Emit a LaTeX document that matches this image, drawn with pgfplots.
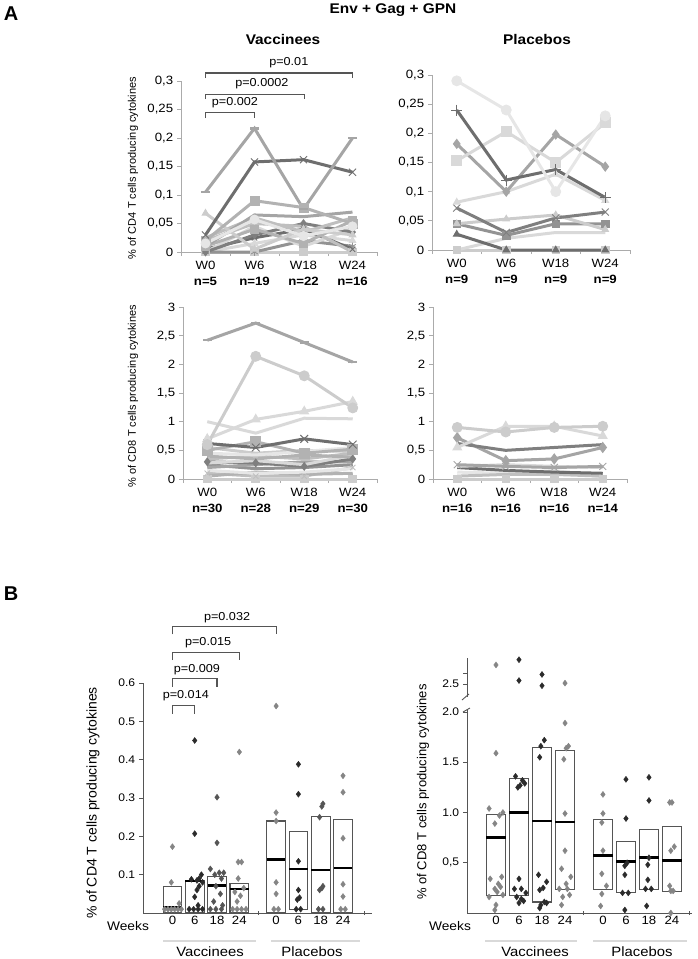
\documentclass[border=0pt]{standalone}
\usepackage{fontspec}
\setmainfont{Liberation Sans}
\usepackage{pgfplots}
\usepackage{pgfplotstable}
\pgfplotsset{compat=1.18}

\definecolor{k1}{HTML}{A5A5A5}
\definecolor{k2}{HTML}{7F7F7F}
\definecolor{k3}{HTML}{BFBFBF}
\definecolor{k4}{HTML}{D9D9D9}
\definecolor{k5}{HTML}{939393}
\definecolor{k6}{HTML}{CCCCCC}
\definecolor{k7}{HTML}{E6E6E6}
\definecolor{k8}{HTML}{6E6E6E}
\definecolor{k9}{HTML}{B2B2B2}
\definecolor{dg}{HTML}{858585}
\definecolor{dk}{HTML}{2B2B2B}
\definecolor{dm}{HTML}{555555}
\definecolor{ax}{HTML}{ABABAB}

\pgfplotstableread{
x a b c d e f g h i j k l m n o
0.5 0.105 0.030 0.020 0.068 0.010 0.015 0.000 0.020 0.000 0.010 0.000 0.000 0.005 0.000 0.025
1.5 0.217 0.158 0.090 0.005 0.065 0.057 0.030 0.050 0.000 0.040 0.015 0.000 0.025 0.045 0.060
2.5 0.075 0.162 0.078 0.040 0.062 0.028 0.050 0.045 0.020 0.015 0.030 0.000 0.040 0.010 0.035
3.5 0.200 0.140 0.050 0.030 0.070 0.045 0.035 0.000 0.010 0.055 0.020 0.000 0.005 0.040 0.060
}\tVC

\pgfplotstableread{
x a b c d e f g h i j k
0.5 0.290 0.240 0.153 0.182 0.082 0.072 0.045 0.045 0.027 0.000 0.000
1.5 0.240 0.120 0.203 0.100 0.100 0.030 0.053 0.025 0.000 0.020 0.000
2.5 0.100 0.138 0.150 0.198 0.130 0.055 0.060 0.045 0.000 0.030 0.000
3.5 0.230 0.090 0.218 0.143 0.085 0.065 0.035 0.045 0.000 0.030 0.000
}\tPC

\pgfplotstableread{
x a b c d e f g h i j k l m n o p q r
0.5 2.42 0.60 0.70 1.00 0.62 0.50 0.45 0.30 0.35 0.20 0.10 0.00 0.40 0.15 0.25 0.55 0.05 0.28
1.5 2.72 2.14 1.04 0.80 0.55 0.65 0.42 0.28 0.40 0.25 0.05 0.00 0.35 0.10 0.18 0.45 0.12 0.32
2.5 2.38 1.80 1.18 1.06 0.70 0.45 0.48 0.22 0.35 0.30 0.05 0.00 0.42 0.12 0.20 0.50 0.08 0.25
3.5 2.04 1.24 1.35 1.05 0.60 0.52 0.55 0.35 0.45 0.30 0.20 0.00 0.38 0.18 0.25 0.48 0.10 0.42
}\tVE

\pgfplotstableread{
x a b c d e f g h i j
0.5 0.90 0.55 0.62 0.72 0.25 0.20 0.05 0.00 0.22 0.12
1.5 0.82 0.92 0.50 0.32 0.22 0.15 0.08 0.00 0.25 0.10
2.5 0.90 0.92 0.55 0.35 0.20 0.12 0.08 0.00 0.22 0.15
3.5 0.92 0.75 0.60 0.55 0.22 0.10 0.05 0.00 0.20 0.03
}\tPE

\pgfplotsset{
  Aaxis/.style={scale only axis, anchor=south west, xmin=0, xmax=4, clip=false,
    axis x line*=bottom, axis y line*=left,
    axis line style={draw=ax, line width=0.9pt},
    tick style={draw=ax, line width=0.9pt}, major tick length=4pt, tick align=outside,
    xtick={0,1,2,3,4}, xticklabels={},
    extra x ticks={0.5,1.5,2.5,3.5}, extra x tick style={major tick length=0pt},
    yticklabel style={font=\fontsize{12}{12}\selectfont, xscale=1.1},
    xticklabel style={font=\fontsize{12}{16}\selectfont, align=center, yshift=-6pt, xscale=1.1},
    /pgf/number format/assume math mode=true},
  L/.style={line width=3pt, mark size=3.8pt, mark options={solid, line width=0.9pt}},
  Ld/.style={line width=3pt, mark size=4.5pt, mark options={solid, line width=2.4pt}},
  Baxis/.style={scale only axis, anchor=south west, clip=false,
    axis x line*=bottom, axis y line*=left,
    axis line style={draw=dm, line width=0.9pt},
    tick style={draw=dm, line width=0.9pt}, major tick length=4pt,
    ytick align=outside, xtick align=center,
    extra x ticks={1,2,3,4,5.65,6.65,7.65,8.65},
    extra x tick labels={0,6,18,24,0,6,18,24},
    extra x tick style={major tick length=0pt},
    yticklabel style={font=\fontsize{11}{12}\selectfont, xscale=1.1},
    xticklabel style={font=\fontsize{12}{12}\selectfont, xscale=1.1},
    /pgf/number format/assume math mode=true},
  bx/.style={draw=dm, line width=1.1pt},
  md/.style={black, line width=2.6pt},
  pts/.style={only marks, mark=diamond*, mark size=3pt},
}
\tikzset{br/.style={draw=dm, line width=1.1pt}, pf/.style={font=\fontsize{11.5}{12}\selectfont, xscale=1.1}}

\begin{document}
\begin{tikzpicture}
\useasboundingbox (0,0) rectangle (697pt,-959pt);

% titles
\node[font=\fontsize{20}{20}\selectfont\bfseries] at (11pt,-14pt) {A};
\node[font=\fontsize{14}{14}\selectfont\bfseries, xscale=1.1] at (393pt,-10pt) {Env + Gag + GPN};
\node[font=\fontsize{14}{14}\selectfont\bfseries, xscale=1.1] at (283pt,-39pt) {Vaccinees};
\node[font=\fontsize{14}{14}\selectfont\bfseries, xscale=1.1] at (537pt,-39pt) {Placebos};
\node[rotate=90, font=\fontsize{11}{11}\selectfont] at (133pt,-168pt) {\% of CD4 T cells producing cytokines};
\node[rotate=90, font=\fontsize{11}{11}\selectfont] at (133pt,-396pt) {\% of CD8 T cells producing cytokines};

% ---------- A: Vaccinees CD4
\begin{axis}[Aaxis, at={(181pt,-252pt)}, width=196pt, height=171pt, ymin=0, ymax=0.3,
  ytick={0,0.05,0.1,0.15,0.2,0.25,0.3}, yticklabels={0,{0,05},{0,1},{0,15},{0,2},{0,25},{0,3}},
  extra x tick labels={{W0\\\textbf{n=5}},{W6\\\textbf{n=19}},{W18\\\textbf{n=22}},{W24\\\textbf{n=16}}}]
\addplot[L,k6,mark=square*] table[y=l]{\tVC};
\addplot[L,k4,mark=triangle*] table[y=k]{\tVC};
\addplot[L,k5,mark=asterisk] table[y=i]{\tVC};
\addplot[L,k8,mark=x] table[y=m]{\tVC};
\addplot[L,k4,mark=none] table[y=n]{\tVC};
\addplot[L,k2,mark=diamond*] table[y=g]{\tVC};
\addplot[L,k3,mark=none] table[y=h]{\tVC};
\addplot[L,k9,mark=square*] table[y=j]{\tVC};
\addplot[L,k3,mark=none] table[y=o]{\tVC};
\addplot[L,k1,mark=none] table[y=e]{\tVC};
\addplot[L,k6,mark=triangle*] table[y=d]{\tVC};
\addplot[L,k9,mark=square*,mark size=4.5pt] table[y=c]{\tVC};
\addplot[L,k7,mark=*,mark size=4.5pt] table[y=f]{\tVC};
\addplot[L,k8,mark=x,mark size=5pt] table[y=b]{\tVC};
\addplot[Ld,k1,mark=-] table[y=a]{\tVC};
\draw[br] (axis cs:0.5,0.235) -- (axis cs:0.5,0.244) -- (axis cs:1.5,0.244) -- (axis cs:1.5,0.235);
\node[pf] at (axis cs:1.1,0.262) {p=0.002};
\draw[br] (axis cs:0.5,0.268) -- (axis cs:0.5,0.277) -- (axis cs:2.52,0.277) -- (axis cs:2.52,0.268);
\node[pf] at (axis cs:1.65,0.295) {p=0.0002};
\draw[br] (axis cs:0.5,0.305) -- (axis cs:0.5,0.314) -- (axis cs:3.5,0.314) -- (axis cs:3.5,0.305);
\node[pf] at (axis cs:2.2,0.333) {p=0.01};
\end{axis}

% ---------- A: Placebos CD4
\begin{axis}[Aaxis, at={(432pt,-250pt)}, width=198pt, height=175pt, ymin=0, ymax=0.3,
  ytick={0,0.05,0.1,0.15,0.2,0.25,0.3}, yticklabels={0,{0,05},{0,1},{0,15},{0,2},{0,25},{0,3}},
  extra x tick labels={{W0\\\textbf{n=9}},{W6\\\textbf{n=9}},{W18\\\textbf{n=9}},{W24\\\textbf{n=9}}}]
\addplot[L,k6,mark=square*] table[y=k]{\tPC};
\addplot[L,k4,mark=none] table[y=j]{\tPC};
\addplot[L,k8,mark=triangle*] table[y=i]{\tPC};
\addplot[L,k5,mark=square*] table[y=h]{\tPC};
\addplot[L,k6,mark=triangle*] table[y=g]{\tPC};
\addplot[L,k2,mark=x,mark size=5pt] table[y=f]{\tPC};
\addplot[L,k4,mark=triangle*] table[y=e]{\tPC};
\addplot[L,k1,mark=diamond*,mark size=4.5pt] table[y=d]{\tPC};
\addplot[L,k4,mark=square*,mark size=5pt] table[y=c]{\tPC};
\addplot[L,k8,mark=+,mark size=5.5pt] table[y=b]{\tPC};
\addplot[L,k7,mark=*,mark size=5pt] table[y=a]{\tPC};
\end{axis}

% ---------- A: Vaccinees CD8
\begin{axis}[Aaxis, at={(183pt,-479pt)}, width=194pt, height=172pt, ymin=0, ymax=3,
  ytick={0,0.5,1,1.5,2,2.5,3}, yticklabels={0,{0,5},1,{1,5},2,{2,5},3},
  extra x tick labels={{W0\\\textbf{n=30}},{W6\\\textbf{n=28}},{W18\\\textbf{n=29}},{W24\\\textbf{n=30}}}]
\addplot[L,k6,mark=square*] table[y=l]{\tVE};
\addplot[L,k3,mark=x] table[y=k]{\tVE};
\addplot[L,k9,mark=none] table[y=q]{\tVE};
\addplot[L,k7,mark=none] table[y=n]{\tVE};
\addplot[L,k5,mark=none] table[y=o]{\tVE};
\addplot[L,k1,mark=none] table[y=j]{\tVE};
\addplot[L,k2,mark=diamond*] table[y=h]{\tVE};
\addplot[L,k4,mark=none] table[y=r]{\tVE};
\addplot[L,k3,mark=none] table[y=i]{\tVE};
\addplot[L,k9,mark=none] table[y=m]{\tVE};
\addplot[L,k6,mark=none] table[y=p]{\tVE};
\addplot[L,k7,mark=none] table[y=g]{\tVE};
\addplot[L,k9,mark=square*,mark size=5pt] table[y=f]{\tVE};
\addplot[L,k8,mark=x,mark size=5.5pt] table[y=e]{\tVE};
\addplot[L,k4,mark=none] table[y=d]{\tVE};
\addplot[L,k4,mark=triangle*,mark size=5pt] table[y=c]{\tVE};
\addplot[L,k6,mark=*,mark size=5pt] table[y=b]{\tVE};
\addplot[Ld,k1,mark=-] table[y=a]{\tVE};
\end{axis}

% ---------- A: Placebos CD8
\begin{axis}[Aaxis, at={(433pt,-479pt)}, width=194pt, height=172pt, ymin=0, ymax=3,
  ytick={0,0.5,1,1.5,2,2.5,3}, yticklabels={0,{0,5},1,{1,5},2,{2,5},3},
  extra x tick labels={{W0\\\textbf{n=16}},{W6\\\textbf{n=16}},{W18\\\textbf{n=16}},{W24\\\textbf{n=14}}}]
\addplot[L,k6,mark=square*] table[y=h]{\tPE};
\addplot[L,k7,mark=none] table[y=j]{\tPE};
\addplot[L,k3,mark=none] table[y=g]{\tPE};
\addplot[L,k8,mark=none] table[y=f]{\tPE};
\addplot[L,k4,mark=none] table[y=i]{\tPE};
\addplot[L,k1,mark=x,mark size=5pt] table[y=e]{\tPE};
\addplot[L,k1,mark=diamond*,mark size=5pt] table[y=d]{\tPE};
\addplot[L,k2,mark=none] table[y=c]{\tPE};
\addplot[L,k4,mark=triangle*,mark size=5pt] table[y=b]{\tPE};
\addplot[L,k6,mark=*,mark size=5pt] table[y=a]{\tPE};
\end{axis}

% ---------- B
\node[font=\fontsize{20}{20}\selectfont\bfseries] at (11pt,-594pt) {B};
\node[rotate=90, font=\fontsize{14}{14}\selectfont] at (93pt,-803pt) {\% of CD4 T cells producing cytokines};
\node[rotate=90, font=\fontsize{13}{13}\selectfont] at (423pt,-792pt) {\% of CD8 T cells producing cytokines};
\node[font=\fontsize{12.5}{13}\selectfont, xscale=1.1] at (128pt,-926pt) {Weeks};
\node[font=\fontsize{12.5}{13}\selectfont, xscale=1.1] at (450pt,-926pt) {Weeks};
\draw[draw=k4, line width=1.3pt] (163pt,-941pt) -- (256pt,-941pt);
\draw[draw=k4, line width=1.3pt] (271pt,-941pt) -- (360pt,-941pt);
\draw[draw=k4, line width=1.3pt] (485pt,-941pt) -- (577pt,-941pt);
\draw[draw=k4, line width=1.3pt] (593pt,-941pt) -- (687pt,-941pt);
\node[font=\fontsize{13.5}{14}\selectfont, xscale=1.1] at (210pt,-952pt) {Vaccinees};
\node[font=\fontsize{13.5}{14}\selectfont, xscale=1.1] at (312pt,-952pt) {Placebos};
\node[font=\fontsize{13.5}{14}\selectfont, xscale=1.1] at (535pt,-952pt) {Vaccinees};
\node[font=\fontsize{13.5}{14}\selectfont, xscale=1.1] at (642pt,-952pt) {Placebos};

% B left: CD4
\begin{axis}[Baxis, at={(143pt,-913pt)}, width=229pt, height=230pt,
  xmin=-0.32, xmax=9.95, ymin=0, ymax=0.6,
  xtick={4.85,9.6}, xticklabels={}, major tick length=4pt,
  ytick={0.1,0.2,0.3,0.4,0.5,0.6}, yticklabels={0.1,0.2,0.3,0.4,0.5,0.6}]
\addplot[bx] coordinates {(0.58,0) (1.42,0) (1.42,0.068) (0.58,0.068)} -- cycle;
\addplot[bx] coordinates {(1.58,0) (2.42,0) (2.42,0.085) (1.58,0.085)} -- cycle;
\addplot[bx] coordinates {(2.58,0) (3.42,0) (3.42,0.095) (2.58,0.095)} -- cycle;
\addplot[bx] coordinates {(3.58,0) (4.42,0) (4.42,0.078) (3.58,0.078)} -- cycle;
\addplot[bx] coordinates {(5.23,0) (6.07,0) (6.07,0.240) (5.23,0.240)} -- cycle;
\addplot[bx] coordinates {(6.23,0.01) (7.07,0.01) (7.07,0.213) (6.23,0.213)} -- cycle;
\addplot[bx] coordinates {(7.23,0) (8.07,0) (8.07,0.252) (7.23,0.252)} -- cycle;
\addplot[bx] coordinates {(8.23,0) (9.07,0) (9.07,0.243) (8.23,0.243)} -- cycle;
\addplot[md] coordinates {(0.58,0.015) (1.42,0.015)};
\addplot[md] coordinates {(1.58,0.083) (2.42,0.083)};
\addplot[md] coordinates {(2.58,0.072) (3.42,0.072)};
\addplot[md] coordinates {(3.58,0.063) (4.42,0.063)};
\addplot[md] coordinates {(5.23,0.140) (6.07,0.140)};
\addplot[md] coordinates {(6.23,0.115) (7.07,0.115)};
\addplot[md] coordinates {(7.23,0.112) (8.07,0.112)};
\addplot[md] coordinates {(8.23,0.117) (9.07,0.117)};
\addplot[pts, color=dg] coordinates {(1,0.173) (0.95,0.08) (1.3,0.025) (0.65,0.01) (0.8,0.01) (0.95,0.01) (1.1,0.01) (1.25,0.01) (1.4,0.01)
  (4,0.42) (3.95,0.133) (4.1,0.133) (3.95,0.09) (4.2,0.065) (3.8,0.055) (4.05,0.045) (3.9,0.03) (3.7,0.01) (3.9,0.01) (4.1,0.01) (4.3,0.01)
  (5.65,0.54) (5.65,0.262) (5.65,0.24) (5.65,0.08) (5.65,0.05) (5.55,0.01) (5.75,0.01)
  (8.65,0.358) (8.65,0.315) (8.65,0.195) (8.65,0.075) (8.65,0.043) (8.55,0.01) (8.75,0.01)};
\addplot[pts, color=dk] coordinates {(2,0.45) (2,0.207) (2.3,0.1) (2.2,0.09) (1.85,0.088) (2.1,0.085) (2.35,0.08) (2.2,0.07) (2.1,0.06) (2.0,0.042) (2.15,0.02) (1.75,0.01) (1.95,0.01) (2.15,0.01) (2.35,0.01)
  (6.65,0.388) (6.65,0.31) (6.65,0.135) (6.65,0.06) (6.7,0.04) (6.6,0.035) (6.55,0.01) (6.75,0.01)};
\addplot[pts, color=dm] coordinates {(3,0.302) (3,0.183) (2.7,0.115) (3.1,0.105) (3.3,0.105) (2.9,0.1) (3.2,0.09) (2.95,0.07) (3.15,0.05) (2.85,0.03) (3.25,0.02) (2.7,0.01) (2.95,0.01) (3.2,0.01)
  (7.75,0.285) (7.7,0.278) (7.6,0.25) (7.75,0.07) (7.7,0.065) (7.6,0.06) (7.55,0.01) (7.75,0.01)};
\draw[br] (axis cs:1,0.52) -- (axis cs:1,0.541) -- (axis cs:2,0.541) -- (axis cs:2,0.52);
\node[pf] at (axis cs:1.6,0.567) {p=0.014};
\draw[br] (axis cs:1,0.59) -- (axis cs:1,0.611) -- (axis cs:3,0.611) -- (axis cs:3,0.59);
\node[pf] at (axis cs:2.1,0.634) {p=0.009};
\draw[br] (axis cs:1,0.66) -- (axis cs:1,0.68) -- (axis cs:4,0.68) -- (axis cs:4,0.66);
\node[pf] at (axis cs:2.6,0.704) {p=0.015};
\draw[br] (axis cs:1,0.727) -- (axis cs:1,0.747) -- (axis cs:5.65,0.747) -- (axis cs:5.65,0.727);
\node[pf] at (axis cs:3.45,0.77) {p=0.032};
\end{axis}

% B right: CD8 lower part
\begin{axis}[Baxis, at={(467pt,-913pt)}, width=225pt, height=203pt,
  xmin=-0.26, xmax=9.52, ymin=0, ymax=2.02,
  xtick={4.78,9.39}, xticklabels={}, major tick length=4pt,
  ytick={0.5,1,1.5,2}, yticklabels={{0,5},1.0,1.5,2.0}]
\addplot[bx] coordinates {(0.58,0.17) (1.42,0.17) (1.42,0.98) (0.58,0.98)} -- cycle;
\addplot[bx] coordinates {(1.58,0.17) (2.42,0.17) (2.42,1.34) (1.58,1.34)} -- cycle;
\addplot[bx] coordinates {(2.58,0.11) (3.42,0.11) (3.42,1.65) (2.58,1.65)} -- cycle;
\addplot[bx] coordinates {(3.58,0.23) (4.42,0.23) (4.42,1.62) (3.58,1.62)} -- cycle;
\addplot[bx] coordinates {(5.23,0.23) (6.07,0.23) (6.07,0.93) (5.23,0.93)} -- cycle;
\addplot[bx] coordinates {(6.23,0.20) (7.07,0.20) (7.07,0.71) (6.23,0.71)} -- cycle;
\addplot[bx] coordinates {(7.23,0.23) (8.07,0.23) (8.07,0.83) (7.23,0.83)} -- cycle;
\addplot[bx] coordinates {(8.23,0.21) (9.07,0.21) (9.07,0.86) (8.23,0.86)} -- cycle;
\addplot[md] coordinates {(0.58,0.75) (1.42,0.75)};
\addplot[md] coordinates {(1.58,1.00) (2.42,1.00)};
\addplot[md] coordinates {(2.58,0.915) (3.42,0.915)};
\addplot[md] coordinates {(3.58,0.905) (4.42,0.905)};
\addplot[md] coordinates {(5.23,0.57) (6.07,0.57)};
\addplot[md] coordinates {(6.23,0.51) (7.07,0.51)};
\addplot[md] coordinates {(7.23,0.55) (8.07,0.55)};
\addplot[md] coordinates {(8.23,0.52) (9.07,0.52)};
\addplot[pts, color=dg] coordinates {(1,1.59) (0.7,1.04) (1.3,1.0) (1.15,0.97) (0.95,0.89) (0.75,0.34) (1.25,0.36) (1.1,0.29) (1.2,0.26) (0.95,0.24) (1.05,0.21) (0.7,0.16) (1.3,0.18) (1.0,0.08) (0.95,0.03)
  (4,1.89) (4.15,1.66) (4.05,1.64) (3.95,1.53) (4,0.99) (4,0.62) (3.85,0.44) (4.25,0.36) (4.05,0.29) (3.75,0.24) (4.1,0.24) (3.9,0.16) (3.85,0.08) (4.2,0.18)
  (5.65,1.18) (5.65,0.99) (5.6,0.9) (5.65,0.62) (5.6,0.39) (5.8,0.27) (5.6,0.19) (5.55,0.07)
  (8.55,1.1) (8.65,1.1) (8.75,0.66) (8.6,0.62) (8.55,0.27) (8.6,0.22) (8.7,0.22) (8.6,0.0)};
\addplot[pts, color=dk] coordinates {(1.85,1.36) (2.15,1.32) (2.25,1.29) (2.05,1.27) (1.95,1.25) (2,0.34) (1.8,0.24) (2.1,0.24) (2.3,0.2) (1.9,0.16) (2.1,0.14) (2,0.1) (2.2,0.12)
  (3.1,1.72) (2.95,1.66) (2.9,1.55) (2.85,0.38) (3.2,0.31) (3.05,0.25) (2.9,0.23) (3.1,0.11) (2.95,0.08) (2.9,0.05) (3.2,0.1)
  (6.65,1.33) (6.65,0.94) (6.7,0.5) (6.6,0.47) (6.6,0.38) (6.5,0.2) (6.75,0.2) (6.6,0.03)
  (7.65,1.35) (7.65,1.12) (7.65,0.55) (7.6,0.48) (7.6,0.33) (7.5,0.24) (7.75,0.24) (7.55,0.07)};
\end{axis}

% B right: CD8 upper part (broken axis)
\begin{axis}[scale only axis, anchor=south west, at={(467pt,-697pt)}, width=225pt, height=39pt, clip=false,
  xmin=-0.26, xmax=9.52, ymin=2.35, ymax=2.8,
  axis x line=none, axis y line*=left,
  axis line style={draw=dm, line width=0.9pt},
  tick style={draw=dm, line width=0.9pt}, major tick length=4pt, ytick align=outside,
  ytick={2.5,2.62}, yticklabels={2.5,{}},
  yticklabel style={font=\fontsize{11}{12}\selectfont, xscale=1.1},
  /pgf/number format/assume math mode=true]
\addplot[pts, color=dg] coordinates {(1,2.72) (4,2.51)};
\addplot[pts, color=dk] coordinates {(2,2.78) (2,2.54) (3,2.61) (3,2.48)};
\end{axis}
\draw[draw=dm, line width=0.9pt] (462pt,-700pt) -- (469pt,-694pt);
\draw[draw=dm, line width=0.9pt] (463pt,-712pt) -- (470pt,-708pt);

\end{tikzpicture}
\end{document}
